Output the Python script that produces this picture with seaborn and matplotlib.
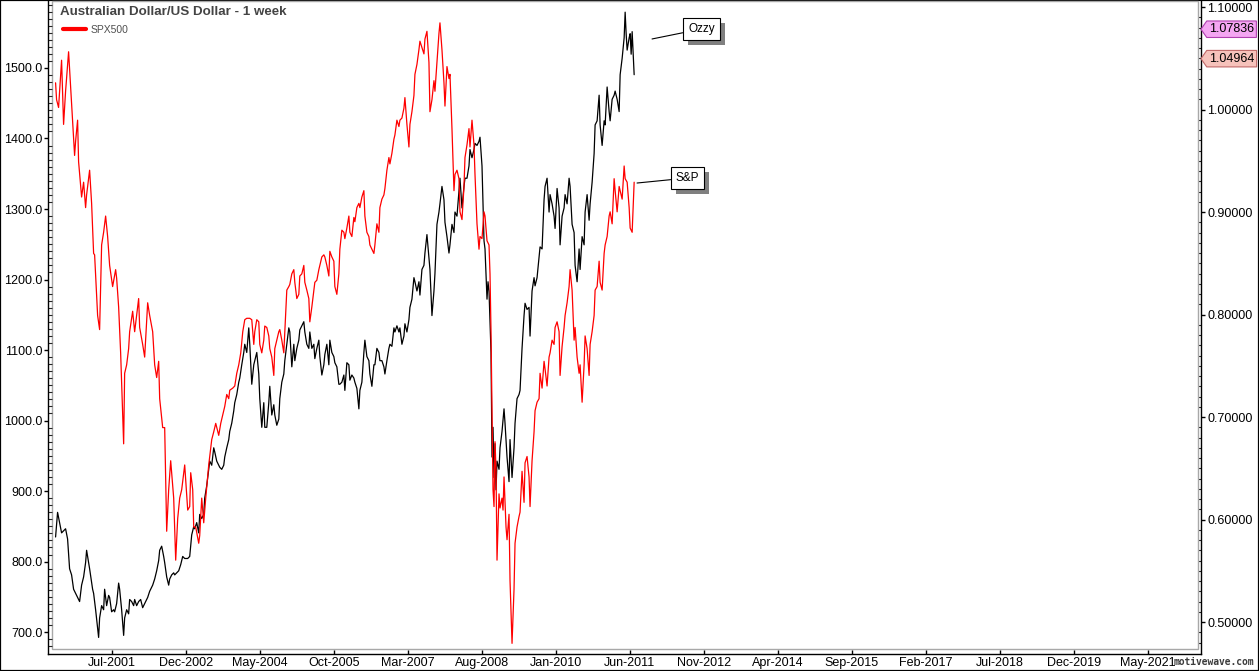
import numpy as np
import pandas as pd
import matplotlib
matplotlib.use("Agg")
import matplotlib.pyplot as plt
import matplotlib.dates as mdates
import matplotlib.transforms as mtransforms
import matplotlib.patheffects as pe
from matplotlib.patches import Rectangle
from matplotlib.path import Path
from matplotlib.ticker import MultipleLocator, FormatStrFormatter
import seaborn as sns

# weekly closes, week 0 = first Friday of June 2000
start = pd.Timestamp("2000-06-02")

spx_weeks = [0, 1, 3, 6, 8, 10, 13, 16, 19, 20,
             22, 23, 26, 28, 30, 31, 34, 36, 38, 39,
             42, 44, 46, 48, 50, 52, 54, 57, 60, 61,
             63, 65, 68, 69, 71, 73, 74, 77, 79, 81,
             83, 84, 87, 89, 92, 94, 97, 99, 101, 103,
             104, 107, 109, 111, 113, 115, 118, 120, 122, 124,
             126, 129, 132, 134, 135, 137, 138, 140, 143, 144,
             146, 148, 150, 153, 156, 158, 160, 163, 165, 168,
             169, 171, 173, 174, 177, 179, 181, 183, 185, 187,
             189, 191, 194, 196, 198, 199, 201, 203, 204, 206,
             208, 209, 211, 213, 214, 216, 218, 219, 221, 223,
             224, 226, 228, 229, 231, 233, 234, 236, 238, 239,
             241, 243, 244, 246, 248, 249, 251, 253, 254, 256,
             258, 259, 261, 263, 264, 266, 268, 269, 271, 273,
             274, 276, 278, 279, 281, 283, 284, 286, 288, 289,
             291, 293, 294, 296, 298, 299, 301, 303, 304, 306,
             308, 309, 311, 313, 314, 316, 318, 319, 321, 323,
             324, 326, 328, 329, 331, 333, 334, 336, 338, 339,
             341, 343, 344, 346, 348, 349, 351, 353, 354, 356,
             358, 359, 361, 363, 364, 366, 368, 369, 371, 373,
             374, 376, 378, 379, 381, 383, 384, 386, 388, 389,
             391, 393, 394, 396, 398, 399, 401, 403, 404, 406,
             408, 409, 411, 413, 414, 416, 418, 419, 421, 423,
             424, 426, 428, 429, 431, 433, 434, 435, 436, 437,
             438, 439, 440, 441, 443, 444, 446, 447, 448, 450,
             451, 453, 454, 456, 458, 459, 461, 463, 464, 466,
             468, 469, 471, 473, 474, 476, 478, 479, 481, 483,
             484, 486, 488, 489, 491, 493, 494, 496, 498, 499,
             501, 503, 504, 506, 508, 509, 511, 513, 514, 516,
             518, 519, 521, 523, 524, 526, 528, 529, 531, 533,
             534, 536, 538, 539, 541, 543, 544, 546, 548, 549,
             551, 553, 554, 556, 558, 559, 561, 563, 564, 566,
             568, 569, 571, 573, 574, 576, 578]
spx_close = [1479, 1455, 1444, 1511, 1420, 1467, 1523, 1449, 1376, 1396,
             1426, 1367, 1317, 1338, 1302, 1320, 1355, 1308, 1237, 1235,
             1149, 1129, 1249, 1267, 1290, 1261, 1220, 1190, 1214, 1202,
             1161, 1096, 967, 1067, 1079, 1102, 1126, 1155, 1126, 1149,
             1173, 1132, 1108, 1090, 1167, 1149, 1126, 1079, 1061, 1084,
             1031, 990, 990, 843, 902, 943, 890, 802, 861, 890,
             902, 937, 873, 878, 926, 902, 849, 849, 826, 837,
             890, 855, 890, 937, 973, 984, 996, 979, 996, 1014,
             1020, 1037, 1031, 1043, 1046, 1049, 1067, 1079, 1096, 1126,
             1143, 1145, 1145, 1143, 1108, 1126, 1143, 1140, 1108, 1096,
             1114, 1134, 1132, 1120, 1102, 1090, 1064, 1102, 1114, 1126,
             1129, 1114, 1096, 1126, 1185, 1190, 1193, 1208, 1214, 1196,
             1173, 1179, 1205, 1208, 1220, 1196, 1185, 1173, 1140, 1161,
             1185, 1196, 1199, 1214, 1220, 1232, 1235, 1232, 1220, 1205,
             1240, 1232, 1226, 1190, 1179, 1208, 1243, 1270, 1267, 1258,
             1273, 1290, 1267, 1261, 1288, 1282, 1302, 1308, 1302, 1317,
             1326, 1290, 1267, 1261, 1249, 1243, 1237, 1249, 1279, 1267,
             1302, 1314, 1320, 1329, 1355, 1373, 1364, 1379, 1399, 1405,
             1426, 1417, 1426, 1429, 1443, 1458, 1420, 1388, 1420, 1438,
             1461, 1491, 1505, 1526, 1538, 1529, 1520, 1541, 1552, 1508,
             1438, 1455, 1482, 1467, 1508, 1549, 1564, 1526, 1479, 1446,
             1502, 1485, 1491, 1414, 1326, 1349, 1355, 1343, 1296, 1285,
             1332, 1373, 1391, 1414, 1388, 1426, 1391, 1349, 1279, 1243,
             1261, 1258, 1296, 1290, 1255, 1249, 1208, 1126, 1008, 902,
             878, 970, 931, 802, 896, 876, 890, 873, 920, 849,
             831, 867, 773, 684, 761, 826, 849, 864, 870, 928,
             884, 940, 949, 920, 878, 943, 984, 1014, 1026, 1031,
             1067, 1046, 1084, 1073, 1049, 1090, 1096, 1114, 1108, 1132,
             1140, 1126, 1064, 1105, 1132, 1149, 1167, 1190, 1214, 1185,
             1114, 1132, 1090, 1067, 1079, 1026, 1079, 1120, 1102, 1064,
             1108, 1126, 1149, 1185, 1190, 1226, 1196, 1185, 1237, 1249,
             1261, 1290, 1296, 1279, 1343, 1326, 1296, 1332, 1326, 1314,
             1361, 1343, 1338, 1302, 1273, 1267, 1338]

aud_weeks = [0, 2, 4, 6, 8, 10, 12, 14, 16, 18,
             20, 23, 24, 26, 28, 30, 31, 33, 34, 37,
             38, 40, 42, 43, 44, 46, 48, 49, 51, 53,
             54, 56, 58, 59, 61, 63, 64, 66, 68, 69,
             71, 73, 74, 76, 78, 79, 81, 83, 85, 87,
             89, 92, 94, 97, 99, 101, 103, 104, 106, 108,
             109, 111, 113, 114, 116, 118, 119, 121, 123, 125,
             127, 129, 132, 134, 136, 138, 139, 141, 143, 144,
             146, 148, 149, 151, 153, 154, 156, 158, 159, 161,
             163, 164, 166, 168, 169, 171, 173, 174, 176, 178,
             179, 181, 183, 184, 186, 188, 189, 191, 193, 194,
             196, 198, 199, 201, 203, 204, 206, 208, 209, 211,
             213, 214, 216, 218, 219, 221, 223, 224, 226, 228,
             229, 231, 233, 234, 236, 238, 239, 241, 243, 244,
             246, 248, 249, 251, 253, 254, 256, 258, 259, 261,
             263, 264, 266, 268, 269, 271, 273, 274, 276, 278,
             279, 281, 283, 284, 286, 288, 289, 291, 293, 294,
             296, 298, 299, 301, 303, 304, 306, 308, 309, 311,
             313, 314, 316, 318, 319, 321, 323, 324, 326, 328,
             329, 331, 333, 334, 336, 338, 339, 341, 343, 344,
             346, 348, 349, 351, 353, 354, 356, 358, 359, 361,
             363, 364, 366, 368, 369, 371, 373, 374, 376, 378,
             379, 381, 383, 384, 386, 388, 389, 391, 393, 394,
             396, 398, 399, 401, 403, 404, 406, 408, 409, 411,
             413, 414, 416, 418, 419, 421, 423, 424, 426, 428,
             429, 431, 432, 433, 435, 436, 437, 438, 439, 440,
             441, 443, 444, 446, 448, 449, 451, 453, 454, 456,
             458, 459, 461, 463, 464, 466, 468, 469, 471, 473,
             474, 476, 478, 479, 481, 483, 484, 486, 488, 489,
             491, 493, 494, 496, 498, 499, 501, 503, 504, 506,
             508, 509, 511, 513, 514, 516, 518, 519, 521, 523,
             524, 526, 528, 529, 531, 533, 534, 536, 538, 539,
             541, 543, 544, 546, 548, 549, 551, 553, 554, 556,
             558, 559, 561, 563, 564, 566, 568, 569, 570, 571,
             573, 574, 575, 576, 578]
aud_close = [0.583, 0.607, 0.597, 0.587, 0.589, 0.591, 0.581, 0.552, 0.546, 0.532,
             0.528, 0.522, 0.520, 0.536, 0.544, 0.558, 0.570, 0.558, 0.552, 0.532,
             0.528, 0.512, 0.494, 0.485, 0.504, 0.516, 0.512, 0.532, 0.516, 0.526,
             0.524, 0.510, 0.512, 0.510, 0.518, 0.538, 0.532, 0.512, 0.487, 0.504,
             0.512, 0.508, 0.522, 0.520, 0.516, 0.522, 0.516, 0.520, 0.522, 0.514,
             0.518, 0.524, 0.530, 0.536, 0.542, 0.550, 0.560, 0.570, 0.574, 0.564,
             0.558, 0.544, 0.536, 0.542, 0.546, 0.548, 0.546, 0.548, 0.550, 0.556,
             0.564, 0.562, 0.562, 0.564, 0.585, 0.593, 0.591, 0.597, 0.587, 0.605,
             0.601, 0.605, 0.621, 0.633, 0.649, 0.657, 0.653, 0.670, 0.666, 0.657,
             0.653, 0.651, 0.649, 0.653, 0.661, 0.670, 0.678, 0.686, 0.694, 0.706,
             0.714, 0.722, 0.734, 0.738, 0.751, 0.763, 0.771, 0.763, 0.787, 0.771,
             0.732, 0.751, 0.755, 0.763, 0.742, 0.718, 0.690, 0.714, 0.690, 0.690,
             0.714, 0.730, 0.702, 0.712, 0.702, 0.692, 0.698, 0.718, 0.734, 0.742,
             0.755, 0.771, 0.787, 0.783, 0.749, 0.771, 0.755, 0.767, 0.775, 0.785,
             0.789, 0.793, 0.783, 0.771, 0.767, 0.783, 0.767, 0.771, 0.757, 0.767,
             0.775, 0.759, 0.741, 0.751, 0.761, 0.771, 0.751, 0.775, 0.763, 0.759,
             0.753, 0.749, 0.732, 0.732, 0.734, 0.741, 0.726, 0.753, 0.751, 0.736,
             0.741, 0.738, 0.734, 0.728, 0.708, 0.726, 0.734, 0.763, 0.775, 0.759,
             0.755, 0.742, 0.730, 0.751, 0.751, 0.767, 0.763, 0.755, 0.755, 0.749,
             0.742, 0.755, 0.767, 0.771, 0.769, 0.787, 0.783, 0.789, 0.783, 0.787,
             0.771, 0.779, 0.791, 0.783, 0.795, 0.807, 0.815, 0.836, 0.832, 0.823,
             0.832, 0.819, 0.844, 0.848, 0.860, 0.878, 0.856, 0.844, 0.799, 0.823,
             0.840, 0.888, 0.900, 0.908, 0.925, 0.912, 0.890, 0.876, 0.860, 0.868,
             0.888, 0.880, 0.900, 0.896, 0.921, 0.933, 0.904, 0.925, 0.933, 0.933,
             0.945, 0.961, 0.953, 0.961, 0.967, 0.965, 0.969, 0.973, 0.945, 0.872,
             0.864, 0.815, 0.832, 0.823, 0.763, 0.661, 0.690, 0.641, 0.674, 0.629,
             0.657, 0.649, 0.670, 0.686, 0.708, 0.694, 0.661, 0.637, 0.678, 0.641,
             0.670, 0.694, 0.718, 0.722, 0.726, 0.767, 0.799, 0.811, 0.805, 0.807,
             0.779, 0.823, 0.836, 0.828, 0.836, 0.856, 0.866, 0.864, 0.912, 0.925,
             0.933, 0.900, 0.917, 0.908, 0.896, 0.884, 0.923, 0.904, 0.868, 0.896,
             0.904, 0.917, 0.908, 0.933, 0.925, 0.888, 0.880, 0.848, 0.832, 0.864,
             0.844, 0.876, 0.868, 0.900, 0.917, 0.892, 0.908, 0.929, 0.957, 0.985,
             0.989, 1.014, 0.985, 0.965, 0.989, 0.985, 1.022, 0.998, 0.989, 1.010,
             1.014, 1.018, 1.010, 0.998, 1.034, 1.050, 1.070, 1.095, 1.074, 1.058,
             1.070, 1.074, 1.054, 1.076, 1.034]

x_ticks = ["Jul-2001", "Dec-2002", "May-2004", "Oct-2005", "Mar-2007",
           "Aug-2008", "Jan-2010", "Jun-2011", "Nov-2012", "Apr-2014",
           "Sep-2015", "Feb-2017", "Jul-2018", "Dec-2019", "May-2021"]
spx_ticks = [700, 800, 900, 1000, 1100, 1200, 1300, 1400, 1500]
aud_ticks = [0.5, 0.6, 0.7, 0.8, 0.9, 1.0, 1.1]
price_tags = [1.07836, 1.04964]

spx = pd.DataFrame({"date": start + pd.to_timedelta(np.array(spx_weeks) * 7, unit="D"),
                    "close": spx_close})
aud = pd.DataFrame({"date": start + pd.to_timedelta(np.array(aud_weeks) * 7, unit="D"),
                    "close": aud_close})

sns.set_style("white")
plt.rcParams["font.family"] = ["Liberation Sans", "DejaVu Sans"]

W, H = 1259, 671
fig = plt.figure(figsize=(W / 100, H / 100), dpi=100)
ax = fig.add_axes([52 / W, 1 - 649 / H, (1198 - 52) / W, 648 / H])
ax2 = ax.twinx()

sns.lineplot(data=aud, x="date", y="close", ax=ax2, color="black", lw=0.9,
             estimator=None, sort=False)
sns.lineplot(data=spx, x="date", y="close", ax=ax, color="#ff0000", lw=0.9,
             estimator=None, sort=False, label="SPX500")

ax.set_zorder(2)
ax2.set_zorder(1)
ax.patch.set_visible(False)

x0, x1 = pd.Timestamp("2000-05-08"), pd.Timestamp("2022-04-17")
ax.set_xlim(x0, x1)
ax.set_ylim(676, 1595)
ax2.set_ylim(0.4737, 1.1059)
for a in (ax, ax2):
    a.set_xlabel("")
    a.set_ylabel("")

# axes lines: black, set a few pixels outside a light grey frame
px = 0.72
for s in ("top", "right"):
    ax.spines[s].set_visible(False)
for s in ("top", "left", "bottom"):
    ax2.spines[s].set_visible(False)
ax.spines["left"].set_position(("outward", 4 * px))
ax.spines["bottom"].set_position(("outward", 5 * px))
ax2.spines["right"].set_position(("outward", 3 * px))
for sp in (ax.spines["left"], ax.spines["bottom"], ax2.spines["right"]):
    sp.set_color("black")
    sp.set_linewidth(1.0)
ax.spines["left"].set_bounds(668.9, 1595)
ax2.spines["right"].set_bounds(0.4688, 1.1059)
ax.spines["bottom"].set_bounds(mdates.date2num(x0 - pd.Timedelta(days=28)),
                               mdates.date2num(x1 + pd.Timedelta(days=21)))
ax.add_patch(Rectangle((0, 0), 1, 1, transform=ax.transAxes, fill=False,
                       ec="#a8a8a8", lw=1.0, clip_on=False, zorder=0))

# ticks
ax.set_xticks(pd.to_datetime(x_ticks, format="%b-%Y"))
ax.set_xticklabels(x_ticks)
ax.tick_params(axis="x", which="major", direction="in", length=4 * px, width=1.0,
               pad=2, labelsize=9, colors="black", bottom=True)
ax.set_yticks(spx_ticks)
ax.yaxis.set_major_formatter(FormatStrFormatter("%.1f"))
ax.yaxis.set_minor_locator(MultipleLocator(10))
ax.tick_params(axis="y", which="major", direction="out", length=4 * px, width=1.0,
               pad=1.2, labelsize=9, colors="black", left=True)
ax.tick_params(axis="y", which="minor", direction="in", length=4 * px, width=0.8,
               left=True)
ax2.set_yticks(aud_ticks)
ax2.yaxis.set_major_formatter(FormatStrFormatter("%.5f"))
ax2.yaxis.set_minor_locator(MultipleLocator(0.01))
ax2.tick_params(axis="y", which="major", direction="out", length=4 * px, width=1.0,
                pad=1.5, labelsize=9, colors="black", right=True)
ax2.tick_params(axis="y", which="minor", direction="in", length=3 * px, width=0.8,
                right=True)

# title and legend
fig.text(60 / W, 1 - 12 / H, "Australian Dollar/US Dollar - 1 week", fontsize=9.6,
         fontweight="bold", color="#444444", va="center", ha="left")
leg = ax.legend(loc="center left", bbox_to_anchor=(63 / W, 1 - 30 / H),
                bbox_transform=fig.transFigure, frameon=False, fontsize=7.5,
                handlelength=2.2, handletextpad=0.45, borderpad=0,
                borderaxespad=0, labelcolor="#505050")
for h in leg.get_lines():
    h.set_linewidth(3)

# call-out boxes with a grey drop shadow
notes = [("Ozzy", (0.5236, 0.9414), (0.5550, 0.9568)),
         ("S&P", (0.5105, 0.7191), (0.5445, 0.7269))]
for label, xy, xyt in notes:
    ann = ax.annotate(label, xy=xy, xycoords="axes fraction", xytext=xyt,
                      textcoords="axes fraction", ha="left", va="center",
                      fontsize=8.5, color="black", zorder=6,
                      bbox=dict(boxstyle="square,pad=0.42", fc="white", ec="black", lw=0.8),
                      arrowprops=dict(arrowstyle="-", color="black", lw=0.8,
                                      shrinkA=0, shrinkB=0))
    ann.get_bbox_patch().set_path_effects(
        [pe.SimplePatchShadow(offset=(5 * px, -5 * px), shadow_rgbFace="#808080",
                              alpha=1.0), pe.Normal()])


# last-price tags on the right axis: box with a pointed left side
def tag_box(x0, y0, width, height, mutation_size):
    pad = 0.18 * mutation_size
    xa, ya = x0 - pad, y0 - pad
    xb, yb = x0 + width + pad, y0 + height + pad
    tip = 0.35 * (yb - ya)
    ym = (ya + yb) / 2
    return Path([(xa - tip, ym), (xa, ya), (xb, ya), (xb, yb), (xa, yb), (xa - tip, ym)],
                closed=True)


tag_style = [("#f4a6f2", "#b040b0"), ("#f6c2bb", "#c06868")]
trans = mtransforms.blended_transform_factory(ax2.transAxes, ax2.transData)
for val, (fc, ec) in zip(price_tags, tag_style):
    ax2.text(1.0096, val, f"{val:.5f}", transform=trans, ha="left", va="center",
             fontsize=9, color="black", clip_on=False, zorder=10,
             bbox=dict(boxstyle=tag_box, fc=fc, ec=ec, lw=0.8))

fig.text(1174 / W, 1 - 662 / H, "motivewave.com", family="DejaVu Sans Mono",
         fontweight="bold", fontsize=6.9, color="#3c3c3c", va="center", ha="left")

fig.patches.append(Rectangle((0, 0), 1, 1, transform=fig.transFigure, fill=False,
                             ec="black", lw=1.6))

fig.savefig("out.png", dpi=100)
